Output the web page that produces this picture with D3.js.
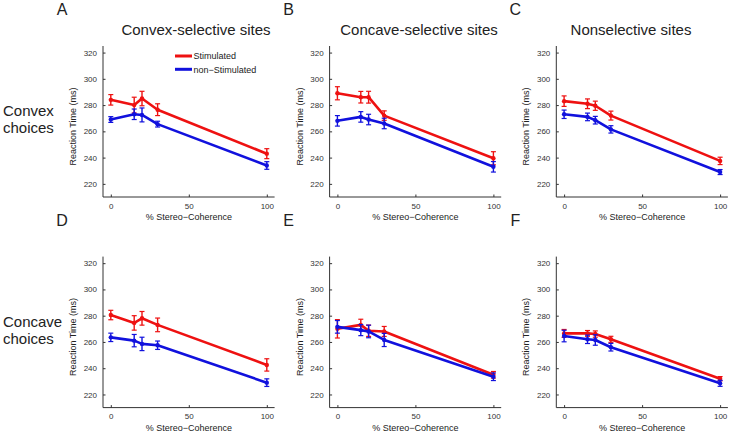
<!DOCTYPE html>
<html>
<head>
<meta charset="utf-8">
<script src="https://cdn.jsdelivr.net/npm/d3@7"></script>
<style>
  body { margin: 0; background: #fff; }
  svg text { font-family: "Liberation Sans", Arial, sans-serif; fill: #222; }
  .axis path, .axis line { stroke: #333; stroke-width: 1; }
  .axis text { font-size: 8px; fill: #333; }
</style>
</head>
<body>
<div id="card"></div>
<script>
//data
const coherence = [0, 15, 20, 30, 100];
const yTicks = [220, 240, 260, 280, 300, 320];
const xTicks = [0, 50, 100];
const siteTitles = ["Convex-selective sites", "Concave-selective sites", "Nonselective sites"];
const choiceLabels = [["Convex", "choices"], ["Concave", "choices"]];
const panelLetters = ["A", "B", "C", "D", "E", "F"];
const seriesNames = ["Stimulated", "non\u2212Stimulated"];

//mean reaction times, panel order A..F
const stimMean = [
  [284, 280, 285, 276.5, 243],
  [289, 286, 286, 272, 239.5],
  [283, 281, 279.5, 272, 237.5],
  [280.5, 274.5, 278, 273, 242.5],
  [270, 273, 268.5, 268, 235],
  [266.5, 266.5, 266, 262, 232]
];
const stimErr = [
  [4, 6, 5.5, 4.5, 3.8],
  [5, 4.4, 4.5, 3.6, 5],
  [4, 3.7, 3.5, 3.4, 2.8],
  [3.6, 5.5, 5.2, 5.2, 4.7],
  [7, 4.3, 4.3, 3.8, 2.5],
  [3, 2.2, 2.4, 2.3, 1.6]
];
const nonStimMean = [
  [269, 273, 272.5, 265.5, 234],
  [268, 271, 269, 266, 233],
  [273, 271, 268.5, 261.5, 229],
  [263.5, 261, 258.5, 257.5, 229],
  [271.5, 269, 268, 261.5, 233.5],
  [264.5, 262, 261.5, 256, 228.5]
];
const nonStimErr = [
  [2.2, 4, 5.3, 2.2, 2.9],
  [4, 4, 4, 4, 4],
  [3.2, 2.9, 2.9, 2.8, 1.9],
  [3.2, 4.7, 5.1, 3.2, 2.9],
  [4.8, 4.2, 4.8, 5, 2.9],
  [4.4, 3.2, 4, 2.9, 2.3]
];

const w = 732;
const h = 433;
const colors = ["#ee1111", "#1111dd"];

const svg = d3.select("#card")
  .append("svg")
    .attr("width", w)
    .attr("height", h);

//panel geometry
const panelLeft = [103, 329.6, 556.3];
const panelTop = [46, 256.6];
const pw = 171.6;
const ph = 151;

const x = d3.scaleLinear().domain([-5, 105]).range([0, pw]);
const y = d3.scaleLinear().domain([210, 325]).range([ph, 0]);

const line = d3.line()
  .x((d, i) => x(coherence[i]))
  .y(d => y(d));

function drawSeries(g, means, errs, color){
  g.append("path")
    .datum(means)
    .attr("fill", "none")
    .attr("stroke", color)
    .attr("stroke-width", 2.6)
    .attr("stroke-linejoin", "round")
    .attr("d", line);

  const pts = g.selectAll(null)
    .data(means.map((m, i) => ({ x: coherence[i], m: m, e: errs[i] })))
    .enter()
    .append("g");

  pts.append("line")
    .attr("x1", d => x(d.x)).attr("x2", d => x(d.x))
    .attr("y1", d => y(d.m - d.e)).attr("y2", d => y(d.m + d.e))
    .attr("stroke", color).attr("stroke-width", 1.4);
  pts.append("line")
    .attr("x1", d => x(d.x) - 2.5).attr("x2", d => x(d.x) + 2.5)
    .attr("y1", d => y(d.m - d.e)).attr("y2", d => y(d.m - d.e))
    .attr("stroke", color).attr("stroke-width", 1.2);
  pts.append("line")
    .attr("x1", d => x(d.x) - 2.5).attr("x2", d => x(d.x) + 2.5)
    .attr("y1", d => y(d.m + d.e)).attr("y2", d => y(d.m + d.e))
    .attr("stroke", color).attr("stroke-width", 1.2);
  pts.append("circle")
    .attr("cx", d => x(d.x))
    .attr("cy", d => y(d.m))
    .attr("r", 2.2)
    .attr("fill", color);
}

for (let p = 0; p < 6; p++){
  const col = p % 3;
  const row = Math.floor(p / 3);
  const chart = svg.append("g")
    .attr("transform", "translate(" + panelLeft[col] + "," + panelTop[row] + ")");

  //axes, matlab style ticks pointing inward
  chart.append("g")
    .classed("axis", true)
    .attr("transform", "translate(0," + ph + ")")
    .call(d3.axisBottom(x).tickValues(xTicks).tickSizeInner(-2.5).tickSizeOuter(0).tickPadding(6))
    .call(a => a.select(".domain").attr("d", "M0,0H" + pw));

  chart.append("g")
    .classed("axis", true)
    .call(d3.axisLeft(y).tickValues(yTicks).tickSizeInner(-2.5).tickSizeOuter(0).tickPadding(6))
    .call(a => a.select(".domain").attr("d", "M0,0V" + ph));

  chart.append("text")
    .attr("transform", "translate(-27," + (ph / 2 + 5) + ") rotate(-90)")
    .attr("text-anchor", "middle")
    .style("font-size", "9px")
    .text("Reaction Time (ms)");

  chart.append("text")
    .attr("x", x(50))
    .attr("y", ph + 23)
    .attr("text-anchor", "middle")
    .style("font-size", "9px")
    .text("% Stereo\u2212Coherence");

  drawSeries(chart, stimMean[p], stimErr[p], colors[0]);
  drawSeries(chart, nonStimMean[p], nonStimErr[p], colors[1]);

  //panel letter
  svg.append("text")
    .attr("x", panelLeft[col] - 41)
    .attr("y", panelTop[row] - 31)
    .attr("text-anchor", "middle")
    .style("font-size", "16px")
    .text(panelLetters[p]);
}

//column titles
const titleX = [196, 419, 631];
siteTitles.forEach((t, i) => {
  svg.append("text")
    .attr("x", titleX[i])
    .attr("y", 35)
    .attr("text-anchor", "middle")
    .style("font-size", "15px")
    .text(t);
});

//row labels
choiceLabels.forEach((lab, r) => {
  lab.forEach((t, k) => {
    svg.append("text")
      .attr("x", 3)
      .attr("y", 116 + r * 210.6 + k * 17)
      .style("font-size", "15px")
      .text(t);
  });
});

//legend in panel A
const legend = svg.append("g")
  .attr("transform", "translate(175,56)");
seriesNames.forEach((n, i) => {
  legend.append("line")
    .attr("x1", 0).attr("x2", 17)
    .attr("y1", i * 13.3).attr("y2", i * 13.3)
    .attr("stroke", colors[i]).attr("stroke-width", 3);
  legend.append("text")
    .attr("x", 18.5)
    .attr("y", i * 13.3 + 3.2)
    .style("font-size", "9px")
    .text(n);
});
</script>
</body>
</html>
